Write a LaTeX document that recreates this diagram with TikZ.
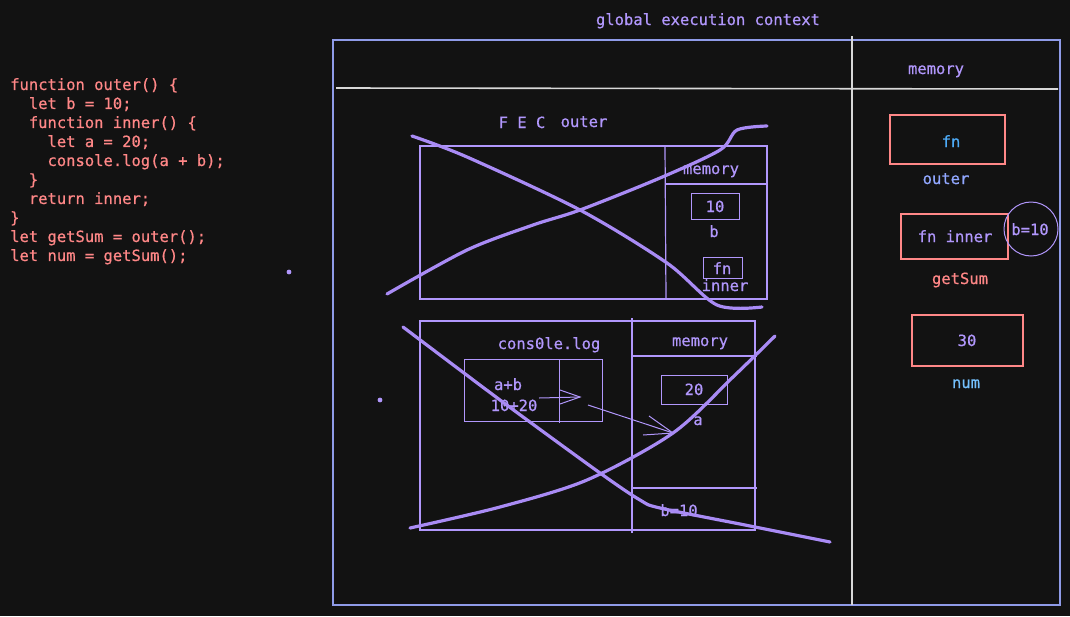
\documentclass[tikz,border=0pt]{standalone}
\usepackage{fontspec}
\setmonofont[FakeBold=0.6]{DejaVu Sans Mono}
\definecolor{bg}{HTML}{121212}
\definecolor{vio}{HTML}{B197FC}
\definecolor{vios}{HTML}{A98BF5}
\definecolor{salmon}{HTML}{FF8787}
\definecolor{indig}{HTML}{91A7FF}
\definecolor{skyb}{HTML}{4DABF7}
\definecolor{numb}{HTML}{74C0FC}
\definecolor{frame}{HTML}{8F9BE8}
\definecolor{sep}{HTML}{D8D8D8}
\tikzset{
  txt/.style={inner sep=0pt, text height=13pt, text depth=1pt, font=\ttfamily\fontsize{15.5}{19}\selectfont, text=vio},
  codet/.style={inner sep=0pt, anchor=north west, align=left, font=\ttfamily\fontsize{15.5}{19}\selectfont, text=salmon},
  vbox/.style={draw=vio, line width=1.2pt},
  rbox/.style={draw=salmon, line width=1.2pt},
  scribble/.style={draw=vios, line width=3.2pt, line cap=round, line join=round},
  thin/.style={draw=vio, line width=1pt},
}
\begin{document}
\begin{tikzpicture}[x=1pt,y=-1pt]
\fill[bg] (0,0) rectangle (1070,616);
\useasboundingbox (0,0) rectangle (1070,616);

% code
\node[codet] (code) at (10,78) {function outer() \{\\
\ \ let b = 10;\\
\ \ function inner() \{\\
\ \ \ \ let a = 20;\\
\ \ \ \ console.log(a + b);\\
\ \ \}\\
\ \ return inner;\\
\}\\
let getSum = outer();\\
let num = getSum();};

% dots
\fill[vio] (289,272) circle (2.4pt);
\fill[vio] (380,400) circle (2.4pt);

% global execution context
\node[txt] (gtitle) at (708,19) {global execution context};
\draw[frame, line width=1.2pt] (333,40) rectangle (1060,605);
\draw[sep, line width=1.2pt] (852,36) -- (852,605);
\draw[sep, line width=1.6pt] (336,88) -- (1058,89);
\node[txt] (gmem) at (936,68) {memory};

% global memory
\draw[rbox] (890,115) rectangle (1005,164);
\node[txt, text=skyb] (fn1) at (951,141) {fn};
\node[txt, text=indig] (lblouter) at (946,178) {outer};
\draw[rbox] (901,214) rectangle (1008,259);
\node[txt] (fninner) at (955,236) {fn inner};
\draw[vio, line width=1pt] (1031,229) circle (27pt);
\node[txt] (bclos) at (1030,229) {b=10};
\node[txt, text=salmon] (lblget) at (960,278) {getSum};
\draw[rbox] (912,315) rectangle (1023,366);
\node[txt] (n30) at (967,340) {30};
\node[txt, text=numb] (lblnum) at (966,382) {num};

% FEC outer
\node[txt] (fec) at (522,122) {F E C};
\node[txt] (fecouter) at (584,121) {outer};
\draw[vbox] (420,146) rectangle (767,299);
\draw[vbox] (665,146) -- (666,299);
\draw[vbox] (665,184) -- (767,184);
\node[txt] (m1) at (711,168) {memory};
\draw[thin] (691,193) rectangle (739,219);
\node[txt] (v10) at (715,206) {10};
\node[txt] (lb) at (714,231) {b};
\draw[thin] (703,257) rectangle (742,278);
\node[txt] (vfn) at (722,268) {fn};
\node[txt] (linner) at (725,285) {inner};

\draw[scribble] plot[smooth, tension=0.5] coordinates {(412,136) (467,157) (580,210) (667,263) (717,305) (762,307)};
\draw[scribble] plot[smooth, tension=0.5] coordinates {(387,294) (467,250) (533,225) (580,210) (660,178) (720,150) (737,130) (767,126)};

% FEC inner
\draw[vbox] (420,321) rectangle (755,530);
\draw[vbox] (632,318) -- (632,533);
\draw[vbox] (632,356) -- (757,356);
\draw[vbox] (632,488) -- (757,488);
\node[txt] (m2) at (700,340) {memory};
\node[txt] (clog) at (549,343) {cons0le.log};
\draw[thin] (464,359) rectangle (602,421);
\draw[thin] (559,359) -- (559,423);
\node[txt] (apb) at (508,384) {a+b};
\node[txt] (ten20) at (514,405) {10+20};
\coordinate (ar1s) at (539,398);
\coordinate (ar1e) at (580,397);
\draw[thin] (ar1s) -- (ar1e);
\draw[thin] (560,390) -- (ar1e) -- (560,404);
\coordinate (ar2s) at (588,405);
\coordinate (ar2e) at (673,433);
\draw[thin] (ar2s) -- (ar2e);
\draw[thin] (649,416) -- (ar2e) -- (643,435);
\draw[thin] (661,375) rectangle (727,404);
\node[txt] (v20) at (694,389) {20};
\node[txt] (la) at (698,419) {a};
\node[txt] (b10) at (679,510) {b=10};

\draw[scribble] plot[smooth, tension=0.5] coordinates {(403,327) (500,400) (600,473) (640,500) (660,508) (745,525) (830,542)};
\draw[scribble] plot[smooth, tension=0.5] coordinates {(410,528) (500,507) (587,480) (673,433) (733,377) (775,336)};
\end{tikzpicture}
\end{document}
